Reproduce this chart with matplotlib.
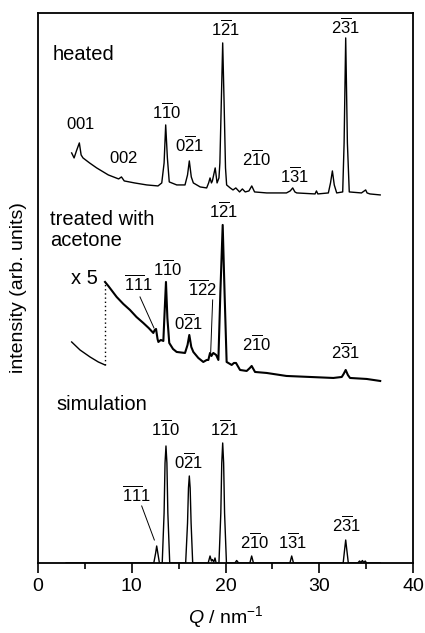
import matplotlib
matplotlib.use("Agg")
import matplotlib.pyplot as plt

plt.rcParams['font.family'] = ['Liberation Sans', 'DejaVu Sans']
plt.rcParams['mathtext.fontset'] = 'custom'
plt.rcParams['mathtext.rm'] = 'Liberation Sans'
plt.rcParams['mathtext.it'] = 'Liberation Sans:italic'

# heated sample (Q in nm^-1, intensity in arb. units, offset stack)
heated_q = [3.59, 3.85, 4.1, 4.41, 4.6, 4.8, 5.5, 6.26, 7.5, 8.6, 8.9, 9.2, 10.3, 11.6,
            12.8, 13.2, 13.45, 13.62, 13.8, 14.0, 14.8, 15.68, 15.95, 16.14, 16.35, 16.57,
            17.3, 17.99, 18.2, 18.35, 18.5, 18.6, 18.9, 19.1, 19.3, 19.4, 19.55, 19.70,
            19.85, 20.0, 20.12, 20.5, 20.8, 21.1, 21.5, 21.8, 22.1, 22.5, 22.8, 23.1, 24.4,
            26.5, 26.9, 27.17, 27.4, 27.6, 29.55, 29.7, 29.85, 30.97, 31.2, 31.4, 31.6,
            31.86, 32.5, 32.65, 32.82, 33.0, 33.2, 34.5, 34.8, 34.95, 35.1, 35.4, 36.5]
heated_i = [410, 405, 412, 420, 408, 405, 400, 395, 388, 384, 386, 382, 380, 378,
            377, 380, 400, 438, 405, 381, 378, 378, 388, 402, 386, 380,
            376, 375, 380, 385, 380, 382, 395, 380, 385, 400, 460, 520,
            460, 395, 378, 375, 373, 375, 371, 374, 371, 372, 377, 371, 370,
            370, 372, 375, 371, 370, 369, 372, 369, 370, 380, 392, 378,
            370, 371, 420, 525, 420, 371, 370, 372, 373, 370, 369, 368]

# treated with acetone: unscaled low-Q part and x5 part
acetone_low_q = [3.59, 4.48, 5.55, 6.43, 7.15]
acetone_low_i = [221, 213, 206, 201, 198]
acetone_q = [7.15, 7.5, 8.39, 9.1, 9.81, 10.5, 11.23, 11.8, 12.30, 12.45, 12.59, 12.75, 12.84,
             13.1, 13.37, 13.5, 13.65, 13.8, 14.0, 14.4, 14.79, 15.68, 15.95, 16.14, 16.35,
             16.57, 17.1, 17.63, 18.0, 18.17, 18.35, 18.5, 18.7, 19.0, 19.24, 19.45, 19.70,
             19.9, 20.12, 20.66, 20.9, 21.12, 21.55, 22.26, 22.6, 22.79, 23.15, 24.39, 26.5,
             29.0, 31.5, 32.4, 32.6, 32.82, 33.05, 33.28, 35.06, 36.5]
acetone_i = [281, 277, 266, 259, 253, 246, 240, 235, 230, 233, 234, 224, 221,
             223, 222, 250, 281, 245, 220, 214, 211, 210, 218, 228, 216,
             211, 205, 201, 203, 203, 210, 207, 210, 208, 203, 270, 338,
             270, 201, 198, 200, 200, 193, 192, 195, 197, 191, 190, 187,
             186, 185, 186, 189, 193, 188, 185, 184, 182]

# simulated pattern
sim_q = [3.0, 12.35, 12.55, 12.66, 12.78, 12.95, 13.25, 13.45, 13.55, 13.65, 13.75, 13.85, 14.05,
         15.75, 15.95, 16.05, 16.14, 16.23, 16.33, 16.5, 18.15, 18.35, 18.5, 18.6, 18.75,
         18.88, 19.0, 19.3, 19.5, 19.6, 19.70, 19.8, 19.9, 20.1, 21.0, 21.19, 21.4,
         22.6, 22.79, 22.98, 26.87, 27.06, 27.25, 32.55, 32.7, 32.82, 32.94, 33.1,
         34.1, 34.3, 34.45, 34.6, 34.75, 34.9, 35.05, 36.5]
sim_i = [0, 0, 10, 17, 10, 0, 0, 50, 100, 117, 100, 50, 0,
         0, 40, 75, 87, 75, 40, 0, 0, 7, 2, 3.5, 1,
         5, 0, 0, 50, 100, 120, 100, 50, 0, 0, 2.5, 0,
         0, 7, 0, 0, 7, 0, 0, 13, 23, 13, 0,
         0, 2, 0.5, 2.5, 0.5, 2, 0, 0]

# peak labels: (text, Q, intensity)
heated_labels = [
    (r'$\mathrm{001}$', 4.48, 439), (r'$\mathrm{002}$', 9.1, 405),
    (r'$\mathrm{1\overline{1}0}$', 13.69, 451), (r'$\mathrm{0\overline{2}1}$', 16.2, 418),
    (r'$\mathrm{1\overline{2}1}$', 19.95, 534), (r'$\mathrm{2\overline{1}0}$', 23.36, 404),
    (r'$\mathrm{1\overline{3}1}$', 27.35, 387), (r'$\mathrm{2\overline{3}1}$', 32.75, 536),
]
acetone_labels = [
    (r'$\mathrm{\overline{1}\overline{1}1}$', 10.7, 279), (r'$\mathrm{1\overline{1}0}$', 13.8, 294),
    (r'$\mathrm{\overline{1}\overline{2}2}$', 17.56, 274), (r'$\mathrm{0\overline{2}1}$', 16.04, 240),
    (r'$\mathrm{1\overline{2}1}$', 19.8, 352), (r'$\mathrm{2\overline{1}0}$', 23.36, 219),
    (r'$\mathrm{2\overline{3}1}$', 32.8, 211),
]
sim_labels = [
    (r'$\mathrm{1\overline{1}0}$', 13.58, 134), (r'$\mathrm{0\overline{2}1}$', 16.04, 101),
    (r'$\mathrm{1\overline{2}1}$', 19.84, 134), (r'$\mathrm{\overline{1}\overline{1}1}$', 10.52, 68),
    (r'$\mathrm{2\overline{1}0}$', 23.08, 21), (r'$\mathrm{1\overline{3}1}$', 27.1, 21),
    (r'$\mathrm{2\overline{3}1}$', 32.9, 38),
]
# pointer lines: (Q0, I0, Q1, I1)
pointers = [(10.88, 266, 12.37, 235), (18.63, 263, 18.42, 211), (11.06, 57, 12.41, 23)]

fig = plt.figure(figsize=(4.25, 6.33), dpi=100)
ax = fig.add_axes([0.0894, 0.1106, 0.8824, 0.869])

lc = 'black'
ax.plot(heated_q, heated_i, color=lc, lw=1.0)
ax.plot(acetone_low_q, acetone_low_i, color=lc, lw=1.0)
ax.plot(acetone_q, acetone_i, color=lc, lw=1.5)
ax.plot([acetone_q[0], acetone_q[0]], [acetone_low_i[-1], acetone_i[0]], color=lc, lw=1.0, ls=(0, (1, 2)))
ax.plot(sim_q, sim_i, color=lc, lw=1.0)
for q0, i0, q1, i1 in pointers:
    ax.plot([q0, q1], [i0, i1], color=lc, lw=0.7)

for labels in (heated_labels, acetone_labels, sim_labels):
    for txt, q, i in labels:
        ax.text(q, i, txt, ha='center', va='center', fontsize=12)

ax.text(1.57, 508, 'heated', fontsize=14.5, va='center', ha='left')
ax.text(1.28, 333, 'treated with\nacetone', fontsize=14.5, va='center', ha='left', linespacing=1.1)
ax.text(5.0, 284, 'x 5', fontsize=14.5, va='center', ha='center')
ax.text(2.0, 158, 'simulation', fontsize=14.5, va='center', ha='left')

ax.set_xlim(0, 40)
ax.set_ylim(0, 550)
ax.set_xticks([0, 10, 20, 30, 40])
ax.set_xticks([5, 15, 25, 35], minor=True)
ax.tick_params(axis='x', which='major', direction='out', length=7, width=1.2, labelsize=14, pad=4)
ax.tick_params(axis='x', which='minor', direction='out', length=4, width=1.2)
ax.set_yticks([])
for s in ax.spines.values():
    s.set_linewidth(1.3)

ax.set_xlabel(r'$Q$ / nm$^{-1}$', fontsize=14, labelpad=6)
ax.set_ylabel('intensity (arb. units)', fontsize=14, labelpad=8)

fig.savefig('out.png', dpi=100)
